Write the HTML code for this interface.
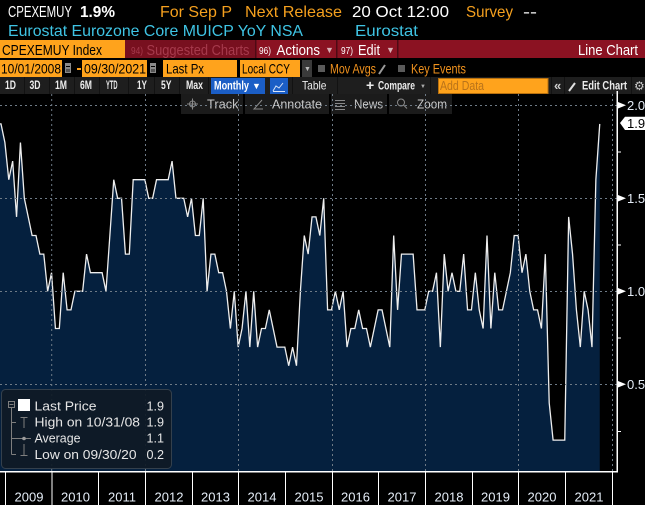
<!DOCTYPE html>
<html><head><meta charset="utf-8"><style>
html,body{margin:0;padding:0;background:#000;overflow:hidden;width:645px;height:505px}
svg{display:block}
text{font-family:"Liberation Sans",sans-serif}
</style></head><body>
<svg width="645" height="505" viewBox="0 0 645 505" xmlns="http://www.w3.org/2000/svg">
<rect width="645" height="505" fill="#000"/>

<!-- Header row 1 -->
<g font-size="16">
<text x="8" y="17" fill="#ffffff" textLength="64" lengthAdjust="spacingAndGlyphs">CPEXEMUY</text>
<text x="80" y="17" fill="#ffffff" font-weight="bold" textLength="35" lengthAdjust="spacingAndGlyphs">1.9%</text>
<text x="160" y="17" fill="#f5a01e" textLength="72" lengthAdjust="spacingAndGlyphs">For Sep P</text>
<text x="245" y="17" fill="#f5a01e" textLength="97" lengthAdjust="spacingAndGlyphs">Next Release</text>
<text x="352" y="17" fill="#ffffff" textLength="97" lengthAdjust="spacingAndGlyphs">20 Oct 12:00</text>
<text x="466" y="17" fill="#f5a01e" textLength="47" lengthAdjust="spacingAndGlyphs">Survey</text>
<text x="523" y="17" fill="#ffffff" textLength="14" lengthAdjust="spacingAndGlyphs">--</text>
<!-- row 2 -->
<text x="8" y="36" fill="#3fc4e4" textLength="295" lengthAdjust="spacingAndGlyphs">Eurostat Eurozone Core MUICP YoY NSA</text>
<text x="355" y="36" fill="#3fc4e4" textLength="63" lengthAdjust="spacingAndGlyphs">Eurostat</text>
</g>

<!-- Row 3 -->
<rect x="0" y="40" width="645" height="18" fill="#8b1222"/>
<rect x="0" y="40" width="125" height="18" fill="#ffa31c"/>
<rect x="125" y="40" width="130" height="18" fill="#78101f"/>
<rect x="255" y="40" width="1.5" height="18" fill="#4e0a14"/>
<rect x="336" y="40" width="1.5" height="18" fill="#4e0a14"/>
<rect x="397" y="40" width="1.5" height="18" fill="#4e0a14"/>
<g font-size="14.5">
<text x="2" y="55" fill="#000" textLength="100" lengthAdjust="spacingAndGlyphs">CPEXEMUY Index</text>
<text x="131" y="54" fill="#a63a4c" font-size="10" textLength="12" lengthAdjust="spacingAndGlyphs">94)</text>
<text x="146.5" y="55" fill="#a63a4c" textLength="103" lengthAdjust="spacingAndGlyphs">Suggested Charts</text>
<text x="259" y="54" fill="#ffffff" font-size="10" textLength="12" lengthAdjust="spacingAndGlyphs">96)</text>
<text x="276.5" y="55" fill="#ffffff" textLength="43.5" lengthAdjust="spacingAndGlyphs">Actions</text>
<text x="325" y="53" fill="#d8b0b6" font-size="9">▼</text>
<text x="341" y="54" fill="#ffffff" font-size="10" textLength="12" lengthAdjust="spacingAndGlyphs">97)</text>
<text x="358" y="55" fill="#ffffff" textLength="22" lengthAdjust="spacingAndGlyphs">Edit</text>
<text x="386" y="53" fill="#d8b0b6" font-size="9">▼</text>
<text x="578" y="55" fill="#ffffff" textLength="60" lengthAdjust="spacingAndGlyphs">Line Chart</text>
</g>

<!-- Row 4 -->
<rect x="0" y="60" width="62" height="17" fill="#ffa31c"/>
<rect x="82" y="60" width="65" height="17" fill="#ffa31c"/>
<rect x="163" y="60" width="74" height="17" fill="#ffa31c"/>
<rect x="240" y="60" width="60" height="17" fill="#ffa31c"/>
<rect x="65" y="63" width="6" height="10" fill="#8a8a8a"/><rect x="66" y="66" width="4" height="1" fill="#000"/><rect x="66" y="69" width="4" height="3" fill="#555"/>
<rect x="150" y="63" width="6" height="10" fill="#8a8a8a"/><rect x="151" y="66" width="4" height="1" fill="#000"/><rect x="151" y="69" width="4" height="3" fill="#555"/>
<rect x="77" y="68" width="4" height="2" fill="#ffa31c"/>
<rect x="302" y="60" width="10" height="17" fill="#3a3a3a"/>
<text x="304" y="71" fill="#bbbbbb" font-size="7">▼</text>
<rect x="318" y="65" width="7" height="7" fill="#5a5a5a"/>
<rect x="398" y="65" width="7" height="7" fill="#5a5a5a"/>
<line x1="379" y1="74" x2="385" y2="65" stroke="#9a9a9a" stroke-width="2"/>
<g font-size="14">
<text x="1" y="73.5" fill="#000" textLength="60" lengthAdjust="spacingAndGlyphs">10/01/2008</text>
<text x="84" y="73.5" fill="#000" textLength="62" lengthAdjust="spacingAndGlyphs">09/30/2021</text>
<text x="166" y="73.5" fill="#000" textLength="38" lengthAdjust="spacingAndGlyphs">Last Px</text>
<text x="242" y="73.5" fill="#000" textLength="48" lengthAdjust="spacingAndGlyphs">Local CCY</text>
<text x="330" y="73.5" fill="#f0921e" textLength="46" lengthAdjust="spacingAndGlyphs">Mov Avgs</text>
<text x="411" y="73.5" fill="#f0921e" textLength="55" lengthAdjust="spacingAndGlyphs">Key Events</text>
</g>

<!-- Row 5 -->
<rect x="0" y="77" width="645" height="17" fill="#1e1e1e"/>
<g fill="#121212">
<rect x="24" y="77" width="1" height="17"/><rect x="49" y="77" width="1" height="17"/><rect x="74" y="77" width="1" height="17"/><rect x="99" y="77" width="1" height="17"/><rect x="128" y="77" width="1" height="17"/><rect x="154" y="77" width="1" height="17"/><rect x="179" y="77" width="1" height="17"/><rect x="208" y="77" width="1" height="17"/><rect x="292" y="77" width="1" height="17"/><rect x="337" y="77" width="1" height="17"/><rect x="430" y="77" width="1" height="17"/><rect x="551" y="77" width="1" height="17"/><rect x="564" y="77" width="1" height="17"/><rect x="631" y="77" width="1" height="17"/>
</g>
<rect x="211" y="78" width="54" height="16" fill="#1b5ec6"/>
<rect x="270" y="78" width="18" height="16" fill="#1b5ec6"/>
<polyline points="273,91 276,86 279,88 283,83" fill="none" stroke="#d8e4f8" stroke-width="1"/>
<line x1="273" y1="91.5" x2="285" y2="91.5" stroke="#d8e4f8" stroke-width="1"/>
<rect x="438.5" y="78.5" width="109.5" height="15" fill="#ffa31c" stroke="#b8700e"/>
<g font-size="12" fill="#ececec" font-weight="bold">
<text x="5" y="89" textLength="11" lengthAdjust="spacingAndGlyphs">1D</text>
<text x="29.5" y="89" textLength="11" lengthAdjust="spacingAndGlyphs">3D</text>
<text x="55" y="89" textLength="12" lengthAdjust="spacingAndGlyphs">1M</text>
<text x="80" y="89" textLength="12" lengthAdjust="spacingAndGlyphs">6M</text>
<text x="106" y="89" textLength="11.5" lengthAdjust="spacingAndGlyphs">YTD</text>
<text x="137" y="89" textLength="10" lengthAdjust="spacingAndGlyphs">1Y</text>
<text x="161" y="89" textLength="10.5" lengthAdjust="spacingAndGlyphs">5Y</text>
<text x="186" y="89" textLength="17" lengthAdjust="spacingAndGlyphs">Max</text>
<text x="214" y="89.5" fill="#ffffff" textLength="35" lengthAdjust="spacingAndGlyphs">Monthly</text>
<text x="252" y="89" fill="#ffffff" font-size="9">▼</text>
<text x="302" y="89.5" font-weight="normal" textLength="24.5" lengthAdjust="spacingAndGlyphs">Table</text>
<text x="366" y="90" font-size="14">+</text>
<text x="378" y="89.5" textLength="37" lengthAdjust="spacingAndGlyphs">Compare</text>
<text x="420" y="88" fill="#aaaaaa" font-size="6">▼</text>
<text x="554" y="90" font-size="13" fill="#cfcfcf">«</text>
<text x="582" y="89.5" textLength="45" lengthAdjust="spacingAndGlyphs">Edit Chart</text>
</g>
<line x1="569" y1="91" x2="575" y2="83" stroke="#e0e0e0" stroke-width="2"/>
<text x="440" y="90" font-size="13" fill="#b9731a" textLength="44" lengthAdjust="spacingAndGlyphs">Add Data</text>
<text x="634" y="90" font-size="12" fill="#cccccc">⚙</text>

<!-- Plot area fill and line -->
<g transform="translate(1,477.3) scale(3.888,-18.6)">
<path fill="#05203e" d="M-1,19 L0,19 1,18 2,16 3,17 4,14 5,18 6,15 7,14 8,13 9,13 10,12 11,12 12,10 13,11 14,8 15,8 16,11 17,9 18,9 19,10 20,10 21,10 22,12 23,11 24,11 25,11 26,11 27,10 28,13 29,16 30,15 31,15 32,12 33,12 34,16 35,16 36,16 37,16 38,15 39,15 40,16 41,16 42,16 43,16 44,17 45,15 46,15 47,15 48,14 49,15 50,13 51,13 52,15 53,10 54,12 55,12 56,11 57,11 58,10 59,8 60,10 61,7 62,8 63,10 64,7 65,10 66,7 67,8 68,8 69,9 70,8 71,7 72,7 73,7 74,6 75,7 76,6 77,10 78,13 79,12 80,14 81,14 82,13 83,15 84,9 85,9 86,10 87,9 88,10 89,7 90,8 91,8 92,9 93,8 94,8 95,7 96,8 97,9 98,9 99,8 100,7 101,13 102,9 103,12 104,12 105,12 106,12 107,9 108,9 109,9 110,10 111,10 112,11 113,7 114,12 115,10 116,11 117,10 118,10 119,12 120,9 121,9 122,11 123,9 124,8 125,13 126,8 127,11 128,9 129,9 130,10 131,11 132,13 133,13 134,11 135,12 136,10 137,9 138,9 139,8 140,12 141,4 142,2 143,2 144,2 145,2 146,14 147,12 148,9 149,7 150,10 151,9 152,7 153,16 154,19 L154,0.28 L-1,0.28 Z"/>
<path fill="none" stroke="#eeeeee" stroke-width="1.3" vector-effect="non-scaling-stroke" stroke-linejoin="miter" d="M-1,19 L0,19 1,18 2,16 3,17 4,14 5,18 6,15 7,14 8,13 9,13 10,12 11,12 12,10 13,11 14,8 15,8 16,11 17,9 18,9 19,10 20,10 21,10 22,12 23,11 24,11 25,11 26,11 27,10 28,13 29,16 30,15 31,15 32,12 33,12 34,16 35,16 36,16 37,16 38,15 39,15 40,16 41,16 42,16 43,16 44,17 45,15 46,15 47,15 48,14 49,15 50,13 51,13 52,15 53,10 54,12 55,12 56,11 57,11 58,10 59,8 60,10 61,7 62,8 63,10 64,7 65,10 66,7 67,8 68,8 69,9 70,8 71,7 72,7 73,7 74,6 75,7 76,6 77,10 78,13 79,12 80,14 81,14 82,13 83,15 84,9 85,9 86,10 87,9 88,10 89,7 90,8 91,8 92,9 93,8 94,8 95,7 96,8 97,9 98,9 99,8 100,7 101,13 102,9 103,12 104,12 105,12 106,12 107,9 108,9 109,9 110,10 111,10 112,11 113,7 114,12 115,10 116,11 117,10 118,10 119,12 120,9 121,9 122,11 123,9 124,8 125,13 126,8 127,11 128,9 129,9 130,10 131,11 132,13 133,13 134,11 135,12 136,10 137,9 138,9 139,8 140,12 141,4 142,2 143,2 144,2 145,2 146,14 147,12 148,9 149,7 150,10 151,9 152,7 153,16 154,19"/>
</g>

<!-- Row 6 buttons -->
<rect x="181" y="94" width="62" height="20" fill="#1b1b1b"/>
<rect x="245" y="94" width="84" height="20" fill="#1b1b1b"/>
<rect x="331" y="94" width="56" height="20" fill="#1b1b1b"/>
<rect x="389" y="94" width="63" height="20" fill="#1b1b1b"/>
<g stroke="#8a8a8a" stroke-width="1" fill="none">
<circle cx="192.5" cy="104" r="3"/><line x1="187" y1="104" x2="198" y2="104"/><line x1="192.5" y1="98.5" x2="192.5" y2="109.5"/>
<polyline points="262,100 254,109 263,109"/>
<line x1="335" y1="100.5" x2="345" y2="100.5"/><line x1="335" y1="103.5" x2="345" y2="103.5"/><line x1="335" y1="106.5" x2="345" y2="106.5"/><line x1="335" y1="109.5" x2="345" y2="109.5"/>
<circle cx="401" cy="102.5" r="3.5"/><line x1="403.5" y1="105" x2="407" y2="108.5"/>
</g>
<g font-size="13" fill="#c8c8c8">
<text x="207" y="108.5" textLength="31.5" lengthAdjust="spacingAndGlyphs">Track</text>
<text x="272" y="108.5" textLength="50" lengthAdjust="spacingAndGlyphs">Annotate</text>
<text x="354" y="108.5" textLength="29" lengthAdjust="spacingAndGlyphs">News</text>
<text x="417" y="108.5" textLength="30" lengthAdjust="spacingAndGlyphs">Zoom</text>
</g>

<!-- Gridlines -->
<g stroke="#6e7a86" stroke-width="1" stroke-dasharray="2,3">
<line x1="0" y1="105.5" x2="617" y2="105.5"/>
<line x1="0" y1="198.5" x2="617" y2="198.5"/>
<line x1="0" y1="291.5" x2="617" y2="291.5"/>
<line x1="0" y1="384.5" x2="617" y2="384.5"/>
<line x1="51.7" y1="94" x2="51.7" y2="471"/>
<line x1="145.5" y1="94" x2="145.5" y2="471"/>
<line x1="238.5" y1="94" x2="238.5" y2="471"/>
<line x1="332.5" y1="94" x2="332.5" y2="471"/>
<line x1="425.5" y1="94" x2="425.5" y2="471"/>
<line x1="518.5" y1="94" x2="518.5" y2="471"/>
<line x1="612.5" y1="94" x2="612.5" y2="471"/>
</g>

<!-- Legend -->
<rect x="1.5" y="389.5" width="170" height="79" rx="4" fill="#0f1a26" fill-opacity="0.93" stroke="#34404c"/>
<g stroke="#7e7e7e" stroke-width="1" fill="none">
<rect x="8.5" y="401.5" width="6" height="6"/>
<line x1="9.5" y1="404.5" x2="13.5" y2="404.5"/>
<line x1="11.5" y1="408" x2="11.5" y2="454.5"/>
<line x1="11.5" y1="422.5" x2="16" y2="422.5"/>
<line x1="11.5" y1="454.5" x2="16" y2="454.5"/>
<line x1="24" y1="417" x2="24" y2="428"/>
<line x1="20.5" y1="417.5" x2="27.5" y2="417.5"/>
<line x1="11.5" y1="438.5" x2="31" y2="438.5"/>
<line x1="24" y1="444" x2="24" y2="455"/>
<line x1="20.5" y1="455.5" x2="27.5" y2="455.5"/>
</g>
<circle cx="24" cy="438.5" r="1.8" fill="#9a9a9a"/>
<rect x="18" y="399" width="12" height="12" fill="#ffffff"/>
<g font-size="13" fill="#e6e6e6">
<text x="34.5" y="410.5" textLength="62" lengthAdjust="spacingAndGlyphs">Last Price</text>
<text x="34.5" y="426.5" textLength="105.5" lengthAdjust="spacingAndGlyphs">High on 10/31/08</text>
<text x="34.5" y="442.5" textLength="46" lengthAdjust="spacingAndGlyphs">Average</text>
<text x="34.5" y="459" textLength="102" lengthAdjust="spacingAndGlyphs">Low on 09/30/20</text>
<text x="146.5" y="410.5" textLength="17.5" lengthAdjust="spacingAndGlyphs">1.9</text>
<text x="146.5" y="426.5" textLength="17.5" lengthAdjust="spacingAndGlyphs">1.9</text>
<text x="146.5" y="442.5" textLength="17.5" lengthAdjust="spacingAndGlyphs">1.1</text>
<text x="146.5" y="459" textLength="17.5" lengthAdjust="spacingAndGlyphs">0.2</text>
</g>

<!-- Axes -->
<rect x="0" y="471" width="618" height="1.5" fill="#ffffff"/>
<rect x="616.5" y="91" width="1.5" height="381.5" fill="#ffffff"/>
<g stroke="#ffffff" stroke-width="1">
<line x1="5.5" y1="472" x2="5.5" y2="505"/>
<line x1="52" y1="472" x2="52" y2="505"/>
<line x1="98.5" y1="472" x2="98.5" y2="505"/>
<line x1="145.5" y1="472" x2="145.5" y2="505"/>
<line x1="192.5" y1="472" x2="192.5" y2="505"/>
<line x1="238.5" y1="472" x2="238.5" y2="505"/>
<line x1="285.5" y1="472" x2="285.5" y2="505"/>
<line x1="332.5" y1="472" x2="332.5" y2="505"/>
<line x1="378.5" y1="472" x2="378.5" y2="505"/>
<line x1="425.5" y1="472" x2="425.5" y2="505"/>
<line x1="472.5" y1="472" x2="472.5" y2="505"/>
<line x1="518.5" y1="472" x2="518.5" y2="505"/>
<line x1="565.5" y1="472" x2="565.5" y2="505"/>
<line x1="612.5" y1="472" x2="612.5" y2="505"/>
<line x1="617" y1="152" x2="621" y2="152"/>
<line x1="617" y1="245" x2="621" y2="245"/>
<line x1="617" y1="338" x2="621" y2="338"/>
<line x1="617" y1="431.5" x2="621" y2="431.5"/>
</g>
<g font-size="13" fill="#e4ecf6" text-anchor="middle">
<text x="29" y="501.5">2009</text>
<text x="75.5" y="501.5">2010</text>
<text x="122" y="501.5">2011</text>
<text x="169" y="501.5">2012</text>
<text x="215.5" y="501.5">2013</text>
<text x="262" y="501.5">2014</text>
<text x="309" y="501.5">2015</text>
<text x="355.5" y="501.5">2016</text>
<text x="402" y="501.5">2017</text>
<text x="449" y="501.5">2018</text>
<text x="495.5" y="501.5">2019</text>
<text x="542" y="501.5">2020</text>
<text x="589" y="501.5">2021</text>
</g>
<g fill="#ffffff">
<polygon points="618,102 618,108.5 626,105.3"/>
<polygon points="618,195 618,201.5 626,198.3"/>
<polygon points="618,288 618,294.5 626,291.3"/>
<polygon points="618,381 618,387.5 626,384.3"/>
</g>
<g font-size="13" fill="#e4ecf6">
<text x="627" y="110">2.0</text>
<text x="627" y="203">1.5</text>
<text x="627" y="296">1.0</text>
<text x="627" y="389">0.5</text>
</g>
<polygon points="620,123 625,116.8 645,116.8 645,130 625,130" fill="#ffffff"/>
<text x="627" y="127.8" font-size="13" fill="#000">1.9</text>
</svg>
</body></html>
